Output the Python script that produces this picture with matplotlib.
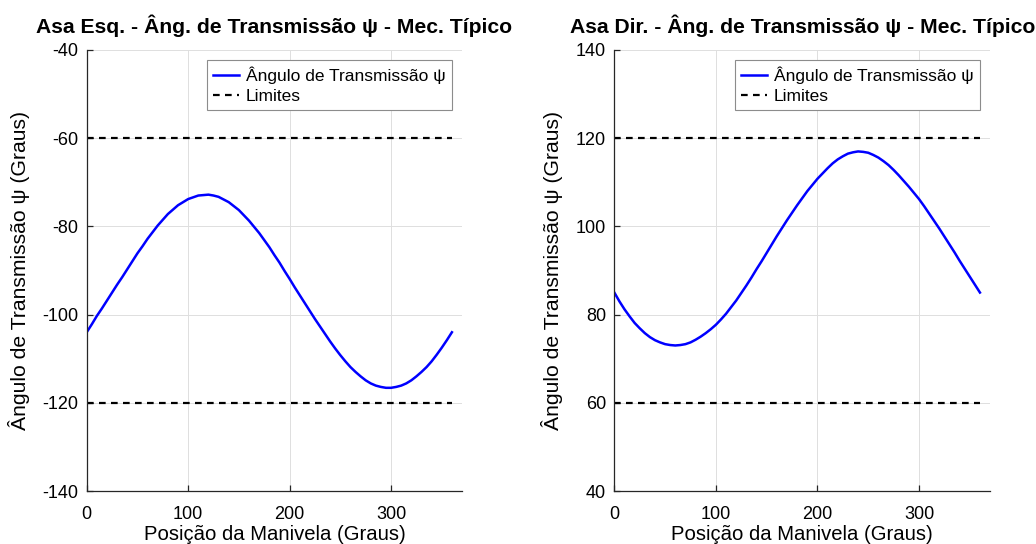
import matplotlib
matplotlib.use("Agg")
import matplotlib.pyplot as plt

plt.rcParams["font.family"] = ["Liberation Sans", "DejaVu Sans"]
plt.rcParams["axes.unicode_minus"] = False

# Crank position (degrees), sampled every 5 degrees
crank = list(range(0, 361, 5))

# Transmission angle psi, left wing (degrees)
psi_left = [-104.0, -102.2, -100.3, -98.6, -96.8, -95.0, -93.2, -91.5, -89.7,
            -87.9, -86.1, -84.5, -82.8, -81.3, -79.8, -78.5, -77.2, -76.2,
            -75.2, -74.5, -73.8, -73.4, -73.0, -72.9, -72.8, -73.0, -73.3,
            -73.9, -74.5, -75.4, -76.3, -77.5, -78.7, -80.1, -81.5, -83.1,
            -84.7, -86.5, -88.2, -90.1, -91.9, -93.8, -95.6, -97.4, -99.2,
            -101.0, -102.7, -104.4, -106.1, -107.7, -109.2, -110.6, -111.9,
            -113.0, -114.0, -114.9, -115.6, -116.1, -116.4, -116.6, -116.6,
            -116.4, -116.1, -115.6, -114.9, -114.0, -113.0, -111.9, -110.6,
            -109.1, -107.5, -105.8, -104.0]

# Transmission angle psi, right wing (degrees)
psi_right = [85.0, 83.0, 81.2, 79.6, 78.1, 76.9, 75.8, 74.9, 74.2, 73.7, 73.3,
             73.1, 73.0, 73.1, 73.3, 73.7, 74.3, 75.0, 75.8, 76.7, 77.7, 78.9,
             80.2, 81.7, 83.2, 84.9, 86.6, 88.4, 90.3, 92.1, 94.0, 95.9, 97.8,
             99.6, 101.4, 103.1, 104.8, 106.4, 108.0, 109.4, 110.8, 112.0,
             113.2, 114.3, 115.2, 115.9, 116.5, 116.8, 117.0, 116.9, 116.7,
             116.2, 115.6, 114.8, 113.9, 112.8, 111.6, 110.3, 109.0, 107.6,
             106.2, 104.6, 102.9, 101.2, 99.5, 97.7, 95.9, 94.1, 92.2, 90.4,
             88.6, 86.8, 85.0]

limit_x = [0, 360]
limits_left = [-60, -120]
limits_right = [120, 60]

panels = [
    ("Asa Esq. - Âng. de Transmissão ψ - Mec. Típico", psi_left, limits_left,
     (-140, -40), [0.0837, 0.0974, 0.3623, 0.8107]),
    ("Asa Dir. - Âng. de Transmissão ψ - Mec. Típico", psi_right, limits_right,
     (40, 140), [0.5930, 0.0974, 0.3627, 0.8107]),
]

fig = plt.figure(figsize=(10.36, 5.44), dpi=100)
ink = "#262626"

for title, psi, lims, ylim, rect in panels:
    ax = fig.add_axes(rect)
    ax.plot(crank, psi, color="blue", lw=1.8, label="Ângulo de Transmissão ψ")
    for i, lim in enumerate(lims):
        ax.plot(limit_x, [lim, lim], color="black", lw=1.6,
                linestyle=(0, (3.0, 2.4)),
                label="Limites" if i == 0 else None)

    ax.set_xlim(0, 370)
    ax.set_ylim(*ylim)
    ax.set_xticks([0, 100, 200, 300])
    ax.set_yticks(range(ylim[0], ylim[1] + 1, 20))
    ax.grid(True, color="#dedede", lw=0.7)
    ax.set_axisbelow(True)

    for side in ("top", "right"):
        ax.spines[side].set_visible(False)
    for side in ("left", "bottom"):
        ax.spines[side].set_color(ink)
        ax.spines[side].set_linewidth(0.9)
    ax.tick_params(axis="both", direction="in", length=4, width=0.9,
                   color=ink, labelcolor="black", labelsize=13)
    ax.tick_params(axis="x", pad=11)
    ax.tick_params(axis="y", pad=6)

    ax.set_title(title, fontsize=15.2, fontweight="bold", pad=12)
    ax.set_xlabel("Posição da Manivela (Graus)", fontsize=14.6, labelpad=1)
    ax.set_ylabel("Ângulo de Transmissão ψ (Graus)", fontsize=15.2,
                  labelpad=9)

    leg = ax.legend(loc="upper right", fontsize=12.5, fancybox=False,
                    edgecolor="#8c8c8c", framealpha=1, borderpad=0.35,
                    labelspacing=0.3, handlelength=1.5, handletextpad=0.4,
                    borderaxespad=0.6)
    leg.get_frame().set_linewidth(0.8)

fig.savefig("out.png", dpi=100)
